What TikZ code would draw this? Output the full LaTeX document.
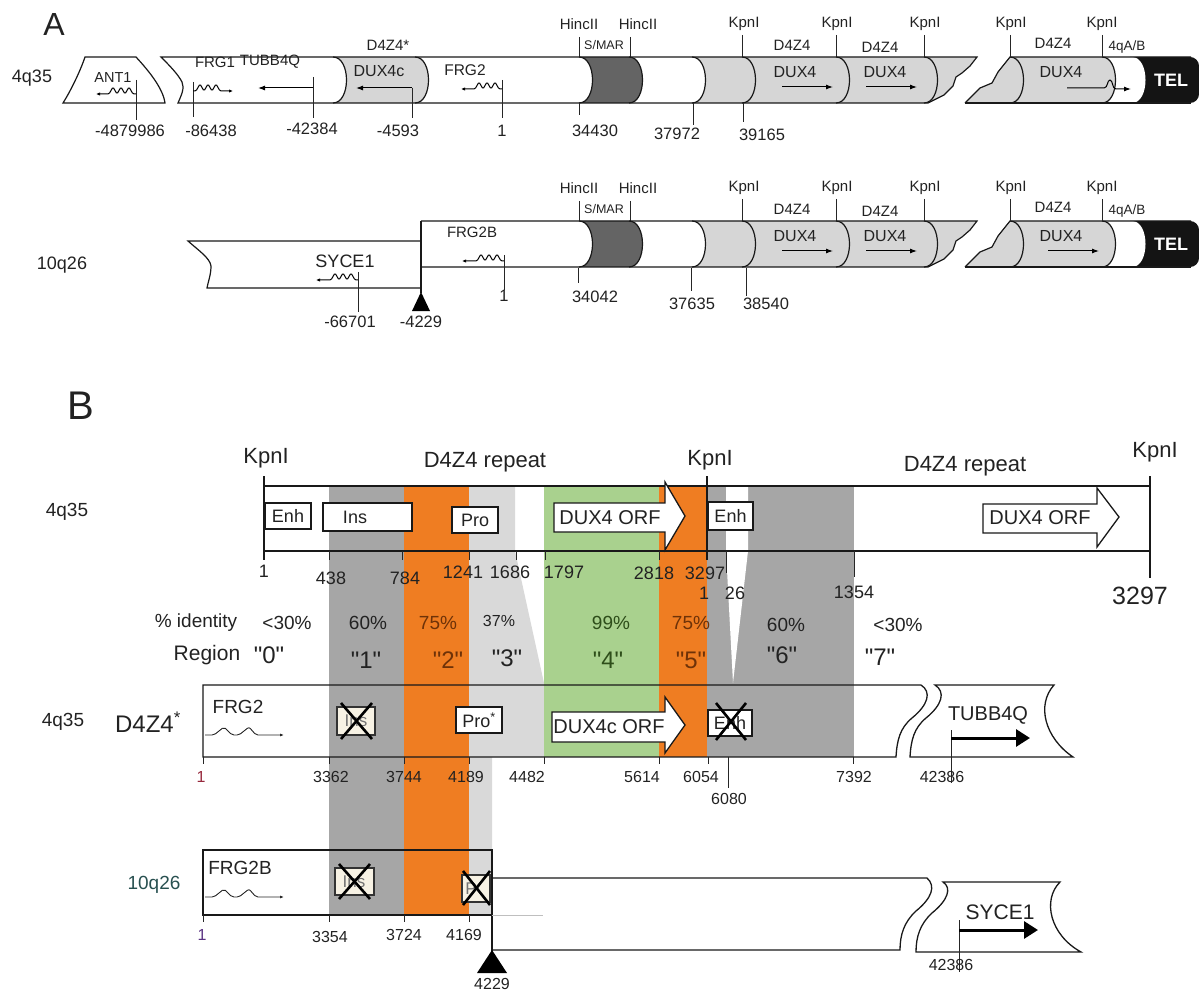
\documentclass[tikz,border=0pt]{standalone}
\usepackage{fontspec}
\setmainfont{Liberation Sans}[Ligatures=TeXOff]
\usetikzlibrary{arrows.meta}
\newcommand\fsz[1]{\fontsize{#1}{#1}\selectfont}
\definecolor{lgA}{HTML}{D6D6D6}
\definecolor{dkA}{HTML}{646464}
\definecolor{telc}{HTML}{141414}
\definecolor{gB}{HTML}{A6A6A6}
\definecolor{lgB}{HTML}{D9D9D9}
\definecolor{orB}{HTML}{EF7D22}
\definecolor{grB}{HTML}{A9D18E}
\definecolor{txt}{HTML}{222222}
\definecolor{txtO}{HTML}{6E3208}
\definecolor{txtG}{HTML}{2E4E1A}
\definecolor{cream}{HTML}{F7F2E4}

\newcommand\sqR[3]{\draw[sq] (#1,#2) -- ++(3,0) -- ++(4,-7) -- ++(4,7) -- ++(4,-7) -- ++(4,7) -- ++(4,-7) -- ++(4,7) -- (#3,#2);}
\newcommand\sqL[3]{\draw[sq] (#1,#2) -- ++(-3,0) -- ++(-4,-7) -- ++(-4,7) -- ++(-4,-7) -- ++(-4,7) -- ++(-4,-7) -- ++(-4,7) -- (#3,#2);}

\newcommand\rightA[1]{%
  \fill[dkA] (579,57) -- (629,57) .. controls (647,57) and (647,103) .. (629,103) -- (579,103) .. controls (597,103) and (597,57) .. (579,57) -- cycle;
  \fill[lgA] (692,57) -- (977,57) -- (970,66) -- (962,73) -- (956,77) -- (953,86) -- (944,95) -- (928,103) -- (692,103) .. controls (710,103) and (710,57) .. (692,57) -- cycle;
  \fill[lgA] (965,103) -- (980,88) -- (992,83) -- (998,72) -- (1010,57) -- (1140,57) -- (1140,103) -- cycle;
  \fill[telc,rounded corners=9pt] (1121,57) rectangle (1199,103);
  \fill[white] (1102,57) -- (1132,57) .. controls (1150,57) and (1150,103) .. (1132,103) -- (1102,103) .. controls (1120,103) and (1120,57) .. (1102,57) -- cycle;
  \draw[aln] (965,103) -- (980,88) -- (992,83) -- (998,72) -- (1010,57) -- (1191,57);
  \draw[aln] (965,103) -- (1191,103);
  \foreach \x in {579,629,692,742,836,924,1010,1102} {\draw[aln] (\x,57) .. controls ({\x+18},57) and ({\x+18},103) .. (\x,103);}
  \draw[tk] (579,37) -- (579,57);
  \draw[tk] (630,37) -- (630,57);
  \foreach \x in {742,836,924,1010,1102} {\draw[tk] (\x,35) -- (\x,57);}
  \node[lab,font=\fsz{15}] (hincA#1) at (579,24) {HincII};
  \node[lab,font=\fsz{15}] (hincB#1) at (638,24) {HincII};
  \node[lab,font=\fsz{12.5}] (smar#1) at (604,45) {S/MAR};
  \node[lab,font=\fsz{15}] (kpA#1) at (744,24) {KpnI};
  \node[lab,font=\fsz{15}] (kpB#1) at (837,24) {KpnI};
  \node[lab,font=\fsz{15}] (kpC#1) at (925,24) {KpnI};
  \node[lab,font=\fsz{15}] (kpD#1) at (1011,24) {KpnI};
  \node[lab,font=\fsz{15}] (kpE#1) at (1102,24) {KpnI};
  \node[lab,font=\fsz{15}] (dzA#1) at (792,45) {D4Z4};
  \node[lab,font=\fsz{15}] (dzB#1) at (880,47) {D4Z4};
  \node[lab,font=\fsz{15}] (dzC#1) at (1053,43) {D4Z4};
  \node[lab,font=\fsz{16}] (duxA#1) at (795,72) {DUX4};
  \node[lab,font=\fsz{16}] (duxB#1) at (885,72) {DUX4};
  \node[lab,font=\fsz{16}] (duxC#1) at (1061,72) {DUX4};
  \node[lab,font=\fsz{13.5}] (qab#1) at (1127,47) {4qA/B};
  \node[lab,text=white,font=\fsz{18}\bfseries] (tel#1) at (1171,80) {TEL};
  \draw[arr] (782,87) -- (833,87);
  \draw[arr] (866,87) -- (917,87);
}

\begin{document}
\begin{tikzpicture}[x=1pt,y=-1pt,
  lab/.style={inner sep=0pt, text=txt, font=\fsz{16.5}},
  aln/.style={line width=1.2pt, draw=black!90},
  tk/.style={line width=0.9pt, draw=black!85},
  bln/.style={line width=1.3pt, draw=black!90},
  arr/.style={line width=1pt, draw=black, -{Latex[length=7pt,width=5pt]}},
  sq/.style={line width=1pt, draw=black, rounded corners=1.2pt, -{Latex[length=4pt,width=3.4pt]}},
  sqb/.style={line width=0.9pt, draw=black!85, rounded corners=2pt, -{Latex[length=4pt,width=3pt]}},
  xm/.style={line width=2.6pt, draw=black},
  boxB/.style={draw=black!90, line width=1.2pt, fill=white, inner sep=0pt, text=txt, font=\fsz{18}},
  crs/.style={draw=black!80, line width=1.1pt, fill=cream},
  thk/.style={line width=3pt, draw=black, -{Triangle[length=14pt,width=17pt]}}]
\useasboundingbox (0,0) rectangle (1199,992);

% ================= Panel A =================
\node[lab,font=\fsz{32}] (letA) at (54,24) {A};
\node[lab,font=\fsz{18}] (r1name) at (32,78) {4q35};

% ANT1 piece
\draw[aln,fill=white] (85,57) -- (136,57) .. controls (148,70) and (163,88) .. (165,103) -- (63,103) .. controls (70,92) and (80,72) .. (85,57) -- cycle;
\node[lab,font=\fsz{14.5}] (ant1) at (113,78) {ANT1};
\draw[tk] (136,80) -- (136,120);
\sqL{136}{94}{96}
\node[lab] (n1) at (130,131) {-4879986};

% row 1 bands
\fill[lgA] (333,57) -- (415,57) .. controls (433,57) and (433,103) .. (415,103) -- (333,103) .. controls (351,103) and (351,57) .. (333,57) -- cycle;
\rightA{r1}
\draw[aln] (161,57) -- (977,57) -- (970,66) -- (962,73) -- (956,77) -- (953,86) -- (944,95) -- (928,103) -- (178,103) .. controls (181,96) and (185,88) .. (182,82) .. controls (178,74) and (168,64) .. (161,57) -- cycle;
\foreach \x in {333,415} {\draw[aln] (\x,57) .. controls ({\x+18},57) and ({\x+18},103) .. (\x,103);}
\draw[arr] (1067,88) -- (1104,88) .. controls (1108,88) and (1107,80) .. (1110,80) .. controls (1113,80) and (1112,89) .. (1116,89) -- (1131,89);

\node[lab,font=\fsz{15}] (frg1) at (215,62) {FRG1};
\draw[tk] (193,82) -- (193,117);
\sqR{193}{91}{233}
\node[lab] (n2) at (211,131) {-86438};

\node[lab,font=\fsz{15}] (tubbA) at (270,62) {TUBB4Q};
\draw[tk] (313,77) -- (313,118);
\draw[arr] (313,88) -- (258,88);
\node[lab] (n3) at (312,129) {-42384};

\node[lab,font=\fsz{15}] (d4z4s) at (388,45) {D4Z4*};
\node[lab,font=\fsz{16}] (dux4c) at (379,71) {DUX4c};
\draw[tk] (412,88) -- (412,118);
\draw[arr] (412,88) -- (356,88);
\node[lab] (n4) at (398,131) {-4593};

\node[lab,font=\fsz{15.5}] (frg2A) at (465,70) {FRG2};
\draw[tk] (502,80) -- (502,118);
\sqL{502}{89}{461}
\node[lab] (n5) at (502,131) {1};

\draw[tk] (579,103) -- (579,115);
\node[lab] (n6) at (595,131) {34430};
\draw[tk] (693,103) -- (693,125);
\node[lab] (n7) at (677,134) {37972};
\draw[tk] (743,103) -- (743,122);
\node[lab] (n8) at (762,135) {39165};

% ---- row 2 ----
\node[lab,font=\fsz{18}] (r2name) at (62,265) {10q26};
\draw[aln,fill=white] (421,241) -- (188,241) .. controls (198,250) and (210,258) .. (211,266) .. controls (211,275) and (208,282) .. (207,288) -- (421,288);
\begin{scope}[shift={(0,164)}]
  \rightA{r2}
  \draw[aln] (421,57) -- (977,57) -- (970,66) -- (962,73) -- (956,77) -- (953,86) -- (944,95) -- (928,103) -- (421,103);
  \draw[arr] (1048,87) -- (1099,87);
\end{scope}
\draw[aln] (421,221) -- (421,293);
\fill[black] (421,292) -- (430,311) -- (412,311) -- cycle;

\node[lab,font=\fsz{18}] (syceA) at (345,261) {SYCE1};
\draw[tk] (358,272) -- (358,312);
\sqL{358}{280}{316}
\node[lab] (m1) at (350,322) {-66701};
\node[lab] (m2) at (421,322) {-4229};

\node[lab,font=\fsz{15}] (frg2bA) at (472,232) {FRG2B};
\draw[tk] (504,255) -- (504,290);
\sqL{504}{261}{462}
\node[lab] (m3) at (504,296) {1};

\draw[tk] (578,268) -- (578,283);
\node[lab] (m4) at (595,297) {34042};
\draw[tk] (691,268) -- (691,291);
\node[lab] (m5) at (692,304) {37635};
\draw[tk] (746,268) -- (746,296);
\node[lab] (m6) at (766,304) {38540};

% ================= Panel B =================
\node[lab,font=\fsz{40}] (letB) at (81,406) {B};

% strips
\fill[gB] (329,486) rectangle (404,915);
\fill[orB] (404,486) rectangle (469,915);
\fill[lgB] (469,486) -- (515,486) -- (515,551) -- (544,683) -- (544,757) -- (492,757) -- (492,915) -- (469,915) -- cycle;
\fill[grB] (544,486) rectangle (659,757);
\fill[orB] (659,486) rectangle (707,757);
\fill[gB] (707,486) rectangle (854,757);
\fill[white] (726,486) -- (748,486) -- (748,551) -- (733,683) -- (726,551) -- cycle;

% top bar
\draw[bln] (264,486) -- (1150,486);
\draw[bln] (264,551) -- (1150,551);
\draw[bln] (264,476) -- (264,560);
\draw[bln] (707,476) -- (707,560);
\draw[bln] (1150,476) -- (1150,578);
\foreach \x in {329,402,469,516,545,659} {\draw[tk] (\x,551) -- (\x,560);}
\draw[tk] (726,551) -- (726,573);
\draw[tk] (854,551) -- (854,577);

\node[lab,font=\fsz{19}] (b4q) at (67,512) {4q35};
\node[lab,font=\fsz{22}] (bk1) at (266,458) {KpnI};
\node[lab,font=\fsz{22}] (brep1) at (485,462) {D4Z4 repeat};
\node[lab,font=\fsz{22}] (bk2) at (710,460) {KpnI};
\node[lab,font=\fsz{22}] (brep2) at (965,466) {D4Z4 repeat};
\node[lab,font=\fsz{22}] (bk3) at (1155,452) {KpnI};

\node[boxB,minimum width=46pt,minimum height=26pt] (enh1) at (288,516) {Enh};
\node[boxB,minimum width=89pt,minimum height=28pt] (insb) at (367.5,517) {};
\node[lab,font=\fsz{18}] (inst) at (355,517) {Ins};
\node[boxB,minimum width=46pt,minimum height=26pt] (pro1) at (475,520) {Pro};
\draw[bln,fill=white] (554,503) -- (665,503) -- (665,482) -- (685,516) -- (665,550) -- (665,532) -- (554,532) -- cycle;
\node[lab,font=\fsz{20}] (orf1) at (610,518) {DUX4 ORF};
\node[boxB,minimum width=45pt,minimum height=28pt] (enh2) at (730.5,516) {Enh};
\draw[bln,fill=white] (983,504) -- (1097,504) -- (1097,488) -- (1119,517) -- (1097,547) -- (1097,533) -- (983,533) -- cycle;
\node[lab,font=\fsz{20}] (orf2) at (1040,518) {DUX4 ORF};

\node[lab,font=\fsz{18}] (t1) at (264,571) {1};
\node[lab,font=\fsz{18}] (t2) at (331,578) {438};
\node[lab,font=\fsz{18}] (t3) at (405,578) {784};
\node[lab,font=\fsz{18}] (t4) at (463,572) {1241};
\node[lab,font=\fsz{18}] (t5) at (510,572) {1686};
\node[lab,font=\fsz{18}] (t6) at (564,572) {1797};
\node[lab,font=\fsz{18}] (t7) at (654,573) {2818};
\node[lab,font=\fsz{18}] (t8) at (705,573) {3297};
\node[lab,font=\fsz{18}] (t9) at (704,593) {1};
\node[lab,font=\fsz{18}] (t10) at (735,593) {26};
\node[lab,font=\fsz{18}] (t11) at (854,592) {1354};
\node[lab,font=\fsz{25}] (t12) at (1140,596) {3297};

% identity row
\node[lab,font=\fsz{19}] (pid) at (196,623) {\% identity};
\node[lab,font=\fsz{19}] (p0) at (287,623) {<30\%};
\node[lab,font=\fsz{19}] (p1) at (368,623) {60\%};
\node[lab,font=\fsz{19},text=txtO] (p2) at (438,623) {75\%};
\node[lab,font=\fsz{16}] (p3) at (499,621) {37\%};
\node[lab,font=\fsz{19},text=txtG] (p4) at (611,623) {99\%};
\node[lab,font=\fsz{19},text=txtO] (p5) at (691,623) {75\%};
\node[lab,font=\fsz{19}] (p6) at (786,625) {60\%};
\node[lab,font=\fsz{19}] (p7) at (898,625) {<30\%};

\node[lab,font=\fsz{21}] (rg) at (207,655) {Region};
\node[lab,font=\fsz{24}] (r0) at (269,655) {"0"};
\node[lab,font=\fsz{24}] (r1) at (366,660) {"1"};
\node[lab,font=\fsz{24},text=txtO] (r2) at (448,660) {"2"};
\node[lab,font=\fsz{24}] (r3) at (507,658) {"3"};
\node[lab,font=\fsz{24},text=txtG] (r4) at (608,660) {"4"};
\node[lab,font=\fsz{24},text=txtO] (r5) at (691,660) {"5"};
\node[lab,font=\fsz{24}] (r6) at (782,655) {"6"};
\node[lab,font=\fsz{24}] (r7) at (880,657) {"7"};

% lower 4q35 bar
\draw[bln] (203,685) -- (921,685) .. controls (932,692) and (928,705) .. (912,718) .. controls (900,728) and (897,740) .. (896,757) -- (203,757) -- cycle;
\draw[bln,fill=white] (935,685) -- (1054,685) .. controls (1036,705) and (1045,738) .. (1073,757) -- (910,757) .. controls (911,740) and (914,728) .. (926,718) .. controls (942,705) and (946,692) .. (935,685) -- cycle;
\node[lab,font=\fsz{20}] (tubbB) at (988,715) {TUBB4Q};
\draw[tk] (951,730) -- (951,783);
\draw[thk] (951,738) -- (1030,738);
\node[lab,font=\fsz{16}] (u9) at (942,777) {42386};

\node[lab,font=\fsz{19}] (c4q) at (63,722) {4q35};
\node[lab,font=\fsz{24}] (cd4) at (148,722) {D4Z4\textsuperscript{*}};
\node[lab,font=\fsz{19}] (frg2B) at (238,707) {FRG2};
\draw[sqb] (205,735) -- (214,735) -- (224,727) -- (232,735) -- (239,735) -- (249,727) -- (256,735) -- (284,735);

\draw[crs] (337,707) rectangle (375,735);
\node[lab,font=\fsz{17},text=black!55] (insx1) at (356,721) {Ins};
\draw[xm] (341,703) -- (372,739);
\draw[xm] (372,703) -- (341,739);
\node[boxB,minimum width=46pt,minimum height=26pt] (pros) at (479,720) {Pro\textsuperscript{*}};
\draw[bln,fill=white] (552,712) -- (665,712) -- (665,697) -- (685,725) -- (665,753) -- (665,742) -- (552,742) -- cycle;
\node[lab,font=\fsz{20}] (orfc) at (609,727) {DUX4c ORF};
\node[boxB,minimum width=44pt,minimum height=26pt] (enhx) at (730,723) {Enh};
\draw[xm] (716,703) -- (746,740);
\draw[xm] (746,703) -- (716,740);

\foreach \x in {203,329,404,469,544,659,708,853} {\draw[tk] (\x,757) -- (\x,764);}
\draw[tk] (728,757) -- (728,788);
\node[lab,font=\fsz{16},text={rgb,255:red,150;green,40;blue,60}] (u1) at (201,777) {1};
\node[lab,font=\fsz{16}] (u2) at (331,777) {3362};
\node[lab,font=\fsz{16}] (u3) at (404,777) {3744};
\node[lab,font=\fsz{16}] (u4) at (466,777) {4189};
\node[lab,font=\fsz{16}] (u5) at (527,777) {4482};
\node[lab,font=\fsz{16}] (u6) at (642,777) {5614};
\node[lab,font=\fsz{16}] (u7) at (701,777) {6054};
\node[lab,font=\fsz{16}] (u8) at (854,777) {7392};
\node[lab,font=\fsz{16}] (u10) at (729,799) {6080};

% 10q26 box
\draw[bln] (203,850) rectangle (492,915);
\draw[bln] (492,878) -- (927,878) .. controls (936,886) and (932,898) .. (916,911) .. controls (904,922) and (900,935) .. (900,950) -- (492,950);
\draw[bln] (492,850) -- (492,952);
\fill[black] (492,950) -- (507,973) -- (477,973) -- cycle;
\node[lab,font=\fsz{16}] (v5) at (492,984) {4229};
\draw[black!25,line width=0.8pt] (492,915) -- (543,915);
\draw[bln,fill=white] (943,882) -- (1060,882) .. controls (1042,900) and (1050,935) .. (1081,952) -- (916,952) .. controls (916,937) and (920,924) .. (932,913) .. controls (948,900) and (952,888) .. (943,882) -- cycle;
\node[lab,font=\fsz{21}] (syceB) at (1000,912) {SYCE1};
\draw[tk] (959,920) -- (959,972);
\draw[thk] (959,930) -- (1038,930);
\node[lab,font=\fsz{16}] (v6) at (951,965) {42386};

\node[lab,font=\fsz{19},text={rgb,255:red,40;green,80;blue,80}] (d10) at (154,885) {10q26};
\node[lab,font=\fsz{19}] (frg2bB) at (240,868) {FRG2B};
\draw[sqb] (205,897) -- (214,897) -- (224,889) -- (232,897) -- (239,897) -- (249,889) -- (256,897) -- (284,897);
\draw[crs] (335,868) rectangle (374,895);
\node[lab,font=\fsz{17},text=black!55] (insx2) at (354,882) {Ins};
\draw[xm] (339,864) -- (370,899);
\draw[xm] (370,864) -- (339,899);
\draw[crs] (462,875) rectangle (490,902);
\node[lab,font=\fsz{17},text=black!55] (prx) at (471,889) {P};
\draw[xm] (463,871) -- (490,905);
\draw[xm] (490,871) -- (463,905);
\foreach \x in {203,329,404,469} {\draw[tk] (\x,915) -- (\x,922);}
\node[lab,font=\fsz{16},text={rgb,255:red,90;green,50;blue,130}] (v1) at (202,935) {1};
\node[lab,font=\fsz{16}] (v2) at (330,937) {3354};
\node[lab,font=\fsz{16}] (v3) at (404,935) {3724};
\node[lab,font=\fsz{16}] (v4) at (464,935) {4169};
\end{tikzpicture}
\end{document}
